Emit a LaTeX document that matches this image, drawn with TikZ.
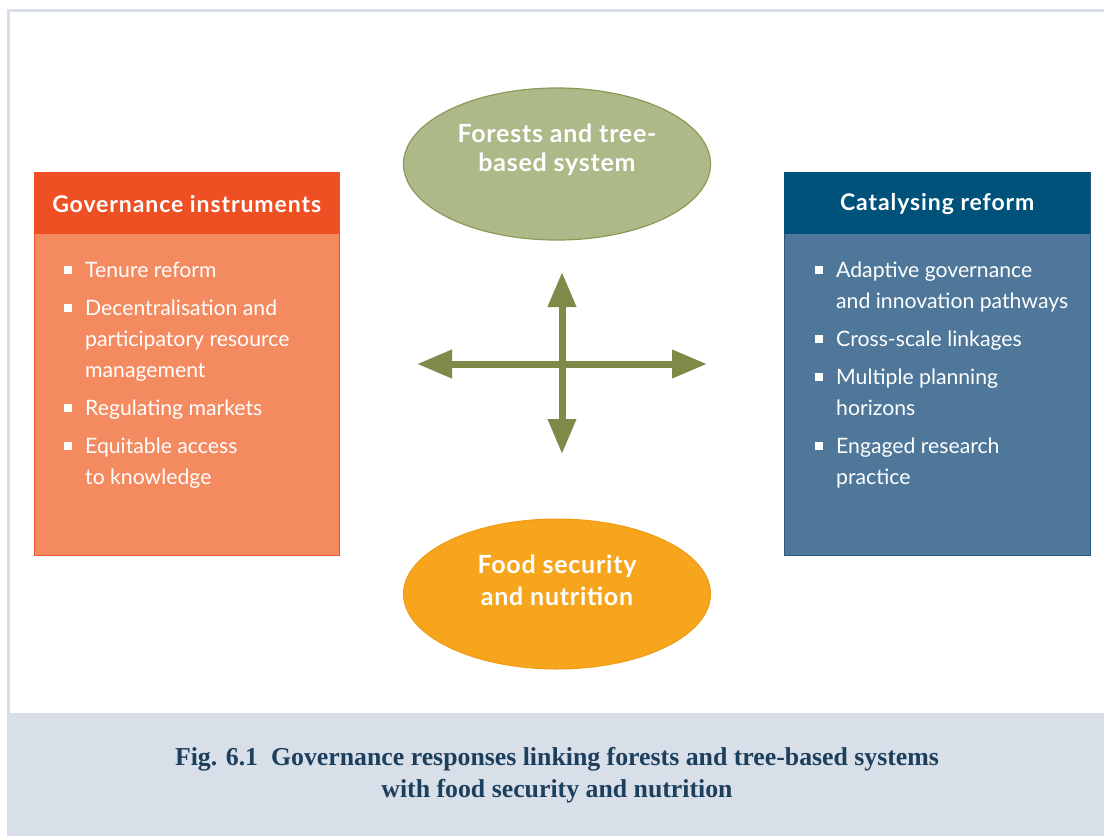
\documentclass[tikz,border=0pt]{standalone}
\usepackage{fontspec}
\setmainfont{Lato}
\newfontfamily\hdfont[LetterSpace=4]{Lato}
\newfontfamily\elfont[LetterSpace=3]{Lato}
\newfontfamily\capfont{Liberation Serif}
\usetikzlibrary{arrows.meta,shapes.geometric}
\definecolor{frameC}{RGB}{216,223,232}
\definecolor{lHead}{RGB}{238,80,36}
\definecolor{lBody}{RGB}{244,138,96}
\definecolor{lBorder}{RGB}{232,86,44}
\definecolor{rHead}{RGB}{0,82,122}
\definecolor{rBody}{RGB}{78,119,153}
\definecolor{rBorder}{RGB}{40,90,128}
\definecolor{forestC}{RGB}{174,185,138}
\definecolor{forestB}{RGB}{140,154,85}
\definecolor{foodC}{RGB}{246,165,28}
\definecolor{foodB}{RGB}{240,155,22}
\definecolor{arrowC}{RGB}{126,138,72}
\definecolor{capC}{RGB}{28,63,94}
\begin{document}
\begin{tikzpicture}[x=1pt,y=-1pt,
  headtxt/.style={text=white,font=\hdfont\fontsize{23}{27}\selectfont\bfseries,anchor=center,inner sep=0},
  itemtxt/.style={text=white,font=\fontsize{21.2}{25}\selectfont,anchor=base west,inner sep=0},
  bul/.style={fill=white,minimum size=8pt,inner sep=0,draw=none},
  elltxt/.style={text=white,font=\elfont\fontsize{25}{29}\selectfont\bfseries,anchor=center,inner sep=0},
  biarrow/.style={arrowC,line width=7pt,{Triangle[length=35pt,width=27pt]}-{Triangle[length=35pt,width=27pt]}},
  captxt/.style={text=capC,font=\capfont\fontsize{25.8}{30}\selectfont\bfseries,anchor=center,inner sep=0}]
\useasboundingbox (0,0) rectangle (1104,836);
\fill[white] (0,0) rectangle (1104,836);
% frame
\draw[frameC,line width=3pt] (8,713) -- (8,10) -- (1104,10);
\fill[frameC] (6.5,713) rectangle (1104,836);
% left box
\node[draw=lBorder,fill=lBody,line width=1pt,minimum width=305pt,minimum height=383pt,inner sep=0,anchor=north west] (lbox) at (34,172) {};
\node[fill=lHead,minimum width=305pt,minimum height=62pt,inner sep=0,anchor=north west] (lhead) at (34,172) {};
\node[headtxt] (lt) at ([yshift=-1pt]lhead.center) {Governance instruments};
\node[bul] (lb1) at (68,270) {};
\node[itemtxt] (l1) at (85,277) {Tenure reform};
\node[bul] (lb2) at (68,308) {};
\node[itemtxt] (l2) at (85,315) {Decentralisation and};
\node[itemtxt] (l3) at (85,346) {participatory resource};
\node[itemtxt] (l4) at (85,377) {management};
\node[bul] (lb3) at (68,408) {};
\node[itemtxt] (l5) at (85,415) {Regulating markets};
\node[bul] (lb4) at (68,446) {};
\node[itemtxt] (l6) at (85,453) {Equitable access};
\node[itemtxt] (l7) at (85,484) {to knowledge};
% right box
\node[draw=rBorder,fill=rBody,line width=1pt,minimum width=306pt,minimum height=383pt,inner sep=0,anchor=north west] (rbox) at (784,172) {};
\node[fill=rHead,minimum width=306pt,minimum height=62pt,inner sep=0,anchor=north west] (rhead) at (784,172) {};
\node[headtxt] (rt) at ([yshift=-1pt]rhead.center) {Catalysing reform};
\node[bul] (rb1) at (819,270) {};
\node[itemtxt] (r1) at (836,277) {Adaptive governance};
\node[itemtxt] (r2) at (836,308) {and innovation pathways};
\node[bul] (rb2) at (819,339) {};
\node[itemtxt] (r3) at (836,346) {Cross-scale linkages};
\node[bul] (rb3) at (819,377) {};
\node[itemtxt] (r4) at (836,384) {Multiple planning};
\node[itemtxt] (r5) at (836,415) {horizons};
\node[bul] (rb4) at (819,446) {};
\node[itemtxt] (r6) at (836,453) {Engaged research};
\node[itemtxt] (r7) at (836,484) {practice};
% ellipses
\node[ellipse,draw=forestB,fill=forestC,line width=1.2pt,minimum width=307pt,minimum height=152pt,inner sep=0] (forest) at (557,164) {};
\node[elltxt] (ft1) at (557,133) {Forests and tree-};
\node[elltxt] (ft2) at (557,164) {based system};
\node[ellipse,draw=foodB,fill=foodC,line width=1pt,minimum width=307pt,minimum height=150pt,inner sep=0] (food) at (557,594) {};
\node[elltxt] (fd1) at (557,566) {Food security};
\node[elltxt] (fd2) at (557,596) {and nutrition};
% arrows
\coordinate (aL) at (417,364);
\coordinate (aR) at (707,364);
\coordinate (aT) at (562,272);
\coordinate (aB) at (562,454);
\draw[biarrow] (aL) -- (aR);
\draw[biarrow] (aT) -- (aB);
% caption
\node[captxt] (c1) at (557,759) {Fig. 6.1\ \ Governance responses linking forests and tree-based systems};
\node[captxt] (c2) at (557,791) {with food security and nutrition};
\end{tikzpicture}
\end{document}
